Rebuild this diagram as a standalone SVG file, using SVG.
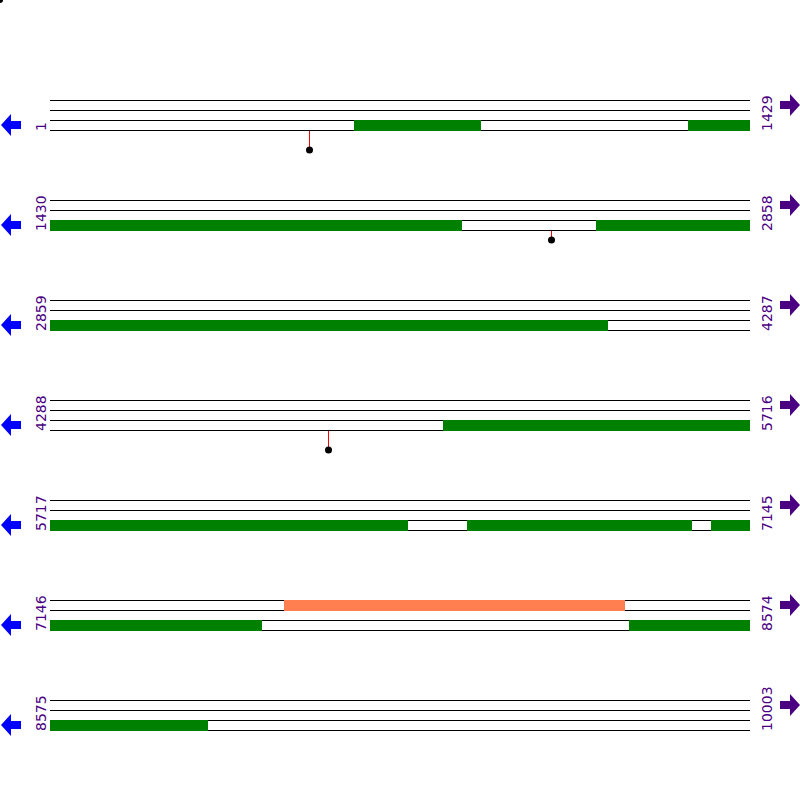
<svg xmlns="http://www.w3.org/2000/svg" width="800" height="800" viewBox="0 0 800 800">
<style>
.ln{stroke:#000;stroke-width:1;fill:none}
.g{fill:#008000}
.o{fill:#FF7F50}
.lab{font-family:"DejaVu Sans",Verdana,sans-serif;font-size:14px;fill:#4B0082}
.la{fill:#0000FF}
.ra{fill:#4B0082}
.stem{stroke:#FF0000;stroke-width:1}
.dot{fill:#000}
</style>
<defs>
<g id="lines">
<line class="ln" x1="50" y1="100.5" x2="750" y2="100.5"/>
<line class="ln" x1="50" y1="110.5" x2="750" y2="110.5"/>
<line class="ln" x1="50" y1="120.5" x2="750" y2="120.5"/>
<line class="ln" x1="50" y1="130.5" x2="750" y2="130.5"/>
</g>
<polygon id="larrow" points="1,125 11,114 11,121 21,121 21,129 11,129 11,136"/>
<polygon id="rarrow" points="780,101 790,101 790,94 800,105 790,116 790,109 780,109"/>
</defs>
<circle cx="0" cy="0" r="3" fill="#000"/>
<g id="row1">
<use href="#lines"/>
<rect class="g" x="354" y="120" width="127" height="11"/>
<rect class="g" x="688" y="120" width="62" height="11"/>
<use href="#larrow" class="la"/><use href="#rarrow" class="ra"/>
<text class="lab" transform="translate(46,131) rotate(-90)">1</text>
<text class="lab" transform="translate(772,131) rotate(-90)">1429</text>
</g>
<g id="row2" transform="translate(0,100)">
<use href="#lines"/>
<rect class="g" x="50" y="120" width="412" height="11"/>
<rect class="g" x="596" y="120" width="154" height="11"/>
<use href="#larrow" class="la"/><use href="#rarrow" class="ra"/>
<text class="lab" transform="translate(46,131) rotate(-90)">1430</text>
<text class="lab" transform="translate(772,131) rotate(-90)">2858</text>
</g>
<g id="row3" transform="translate(0,200)">
<use href="#lines"/>
<rect class="g" x="50" y="120" width="558" height="11"/>
<use href="#larrow" class="la"/><use href="#rarrow" class="ra"/>
<text class="lab" transform="translate(46,131) rotate(-90)">2859</text>
<text class="lab" transform="translate(772,131) rotate(-90)">4287</text>
</g>
<g id="row4" transform="translate(0,300)">
<use href="#lines"/>
<rect class="g" x="443" y="120" width="307" height="11"/>
<use href="#larrow" class="la"/><use href="#rarrow" class="ra"/>
<text class="lab" transform="translate(46,131) rotate(-90)">4288</text>
<text class="lab" transform="translate(772,131) rotate(-90)">5716</text>
</g>
<g id="row5" transform="translate(0,400)">
<use href="#lines"/>
<rect class="g" x="50" y="120" width="358" height="11"/>
<rect class="g" x="467" y="120" width="225" height="11"/>
<rect class="g" x="711" y="120" width="39" height="11"/>
<use href="#larrow" class="la"/><use href="#rarrow" class="ra"/>
<text class="lab" transform="translate(46,131) rotate(-90)">5717</text>
<text class="lab" transform="translate(772,131) rotate(-90)">7145</text>
</g>
<g id="row6" transform="translate(0,500)">
<use href="#lines"/>
<rect class="o" x="284" y="100" width="341" height="11"/>
<rect class="g" x="50" y="120" width="212" height="11"/>
<rect class="g" x="629" y="120" width="121" height="11"/>
<use href="#larrow" class="la"/><use href="#rarrow" class="ra"/>
<text class="lab" transform="translate(46,131) rotate(-90)">7146</text>
<text class="lab" transform="translate(772,131) rotate(-90)">8574</text>
</g>
<g id="row7" transform="translate(0,600)">
<use href="#lines"/>
<rect class="g" x="50" y="120" width="158" height="11"/>
<use href="#larrow" class="la"/><use href="#rarrow" class="ra"/>
<text class="lab" transform="translate(46,131) rotate(-90)">8575</text>
<text class="lab" transform="translate(772,131) rotate(-90)">10003</text>
</g>
<g id="connectors">
<line class="stem" x1="309.5" y1="131" x2="309.5" y2="150"/>
<circle class="dot" cx="309.5" cy="150" r="3.5"/>
<line class="stem" x1="551.5" y1="231" x2="551.5" y2="240"/>
<circle class="dot" cx="551.5" cy="240" r="3.5"/>
<line class="stem" x1="328.5" y1="431" x2="328.5" y2="450"/>
<circle class="dot" cx="328.5" cy="450" r="3.5"/>
</g>
</svg>
